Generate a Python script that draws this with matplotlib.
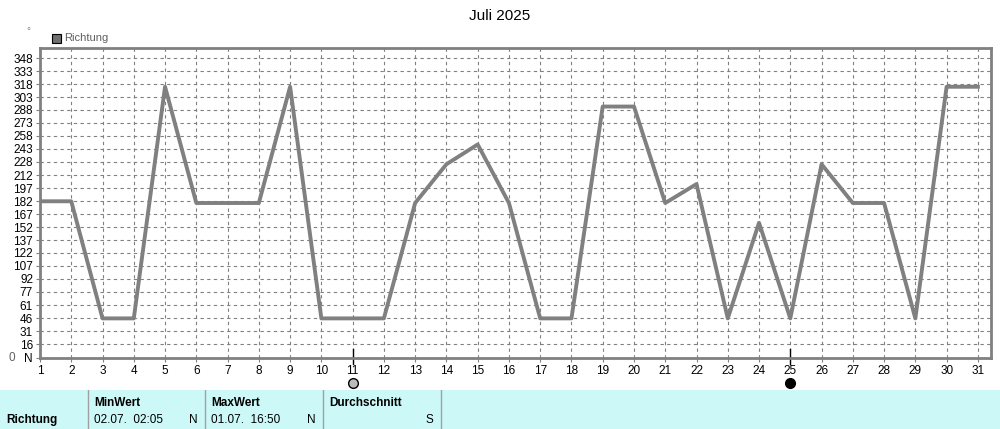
import matplotlib.pyplot as plt
from matplotlib.patches import Rectangle

days = list(range(1, 32))
richtung = [182, 182, 46, 46, 315, 180, 180, 180, 315, 46, 46, 46, 180, 225, 248, 180,
            46, 46, 292, 292, 180, 202, 46, 157, 46, 225, 180, 180, 46, 315, 315]
ytick_vals = [0, 16, 31, 46, 61, 77, 92, 107, 122, 137, 152, 167, 182, 197, 212, 228,
              243, 258, 273, 288, 303, 318, 333, 348]
ytick_labels = ['N'] + [str(v) for v in ytick_vals[1:]]
moon_days = [11, 25]

plt.rcParams['font.family'] = 'Liberation Sans'
W, H = 1000, 429
fig = plt.figure(figsize=(W / 100, H / 100), dpi=100)
ax = fig.add_axes([40 / W, 1 - 358 / H, 951 / W, 310 / H])

ax.plot(days, richtung, color='#808080', lw=2.8, zorder=3)
ax.set_xlim(1, 31.42)
ax.set_ylim(0, 360)
ax.set_xticks(days)
ax.set_yticks(ytick_vals)
ax.set_yticklabels(ytick_labels)
ax.tick_params(labelsize=8.5, length=3, color='#808080', pad=2)
ax.grid(True, linestyle=(0, (3, 3)), color='#808080', lw=0.8)
for s in ax.spines.values():
    s.set_color('#808080')
    s.set_linewidth(2)

fig.text(0.5, 1 - 16 / H, 'Juli 2025', ha='center', va='center', fontsize=11)
fig.text(28 / W, 1 - 31 / H, '°', ha='center', va='center', fontsize=7, color='#808080')
fig.text(12 / W, 1 - 358 / H, '0', ha='center', va='center', fontsize=8.5, color='#606060')
fig.patches.append(Rectangle((52 / W, 1 - 43 / H), 9 / W, 9 / H, transform=fig.transFigure,
                             facecolor='#707070', edgecolor='black', lw=0.8))
fig.text(64 / W, 1 - 38 / H, 'Richtung', va='center', fontsize=8, color='#606060')

for d in moon_days:
    ax.plot([d, d], [-0.02, 0.03], transform=ax.get_xaxis_transform(), color='black',
            lw=1, clip_on=False)
    ax.plot(d, -0.08, 'o', transform=ax.get_xaxis_transform(), ms=7, mfc='#bbbbbb' if d == 11 else 'black',
            mec='black', clip_on=False)

# table at bottom
tb = fig.add_axes([0, 0, 1, 39 / H])
tb.set_xlim(0, W)
tb.set_ylim(39, 0)
tb.axis('off')
tb.add_patch(Rectangle((0, 0), W, 39, facecolor='#ccf8f8', edgecolor='none'))
for x in [88, 205, 323, 441]:
    tb.plot([x, x], [0, 39], color='#a0a0a0', lw=1)
tb.text(6, 30, 'Richtung', fontsize=8.5, fontweight='bold', va='center')
tb.text(94, 13, 'MinWert', fontsize=8.5, fontweight='bold', va='center')
tb.text(94, 30, '02.07.  02:05', fontsize=8.5, va='center')
tb.text(198, 30, 'N', fontsize=8.5, va='center', ha='right')
tb.text(211, 13, 'MaxWert', fontsize=8.5, fontweight='bold', va='center')
tb.text(211, 30, '01.07.  16:50', fontsize=8.5, va='center')
tb.text(316, 30, 'N', fontsize=8.5, va='center', ha='right')
tb.text(329, 13, 'Durchschnitt', fontsize=8.5, fontweight='bold', va='center')
tb.text(433, 30, 'S', fontsize=8.5, va='center', ha='right')

fig.savefig('out.png', dpi=100)
